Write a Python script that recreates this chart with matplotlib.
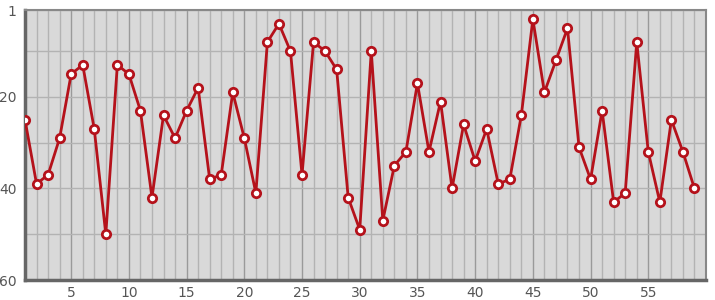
import matplotlib.pyplot as plt
from matplotlib.ticker import MultipleLocator

x_values = list(range(1, 60))
y_values = [25, 39, 37, 29, 15, 13, 27, 50, 13, 15,
            23, 42, 24, 29, 23, 18, 38, 37, 19, 29,
            41, 8, 4, 10, 37, 8, 10, 14, 42, 49,
            10, 47, 35, 32, 17, 32, 21, 40, 26, 34,
            27, 39, 38, 24, 3, 19, 12, 5, 31, 38,
            23, 43, 41, 8, 32, 43, 25, 32, 40]
x_ticks = [5, 10, 15, 20, 25, 30, 35, 40, 45, 50, 55]
y_ticks = [1, 20, 40, 60]


def main():
    fig = plt.figure(figsize=(7.15, 3.0), dpi=100)
    ax = fig.add_axes([25 / 715, 20 / 300, 681 / 715, 270 / 300])
    ax.set_facecolor('#d9d9d9')

    ax.plot(x_values, y_values, color='#b5121b', linewidth=2,
            marker='o', markersize=6, markerfacecolor='white',
            markeredgecolor='#b5121b', markeredgewidth=2, zorder=3)

    ax.set_xlim(1, 60)
    ax.set_ylim(60, 1)

    # 网格
    ax.xaxis.set_minor_locator(MultipleLocator(1))
    ax.yaxis.set_minor_locator(MultipleLocator(10))
    ax.set_xticks(x_ticks)
    ax.set_yticks(y_ticks)
    ax.grid(which='minor', color='#b3b3b3', linewidth=1)
    ax.grid(which='major', axis='x', color='#9a9a9a', linewidth=1)
    ax.grid(which='major', axis='y', color='#b3b3b3', linewidth=1)
    ax.set_axisbelow(True)

    ax.tick_params(which='both', length=0, labelsize=10, labelcolor='#555555')
    ax.tick_params(axis='y', pad=6)
    ax.tick_params(axis='x', pad=4)

    for side in ['left', 'bottom']:
        ax.spines[side].set_color('#666666')
        ax.spines[side].set_linewidth(2.5)
    for side in ['top', 'right']:
        ax.spines[side].set_color('#888888')
        ax.spines[side].set_linewidth(1.5)

    fig.savefig('out.png', dpi=100)


if __name__ == '__main__':
    main()
